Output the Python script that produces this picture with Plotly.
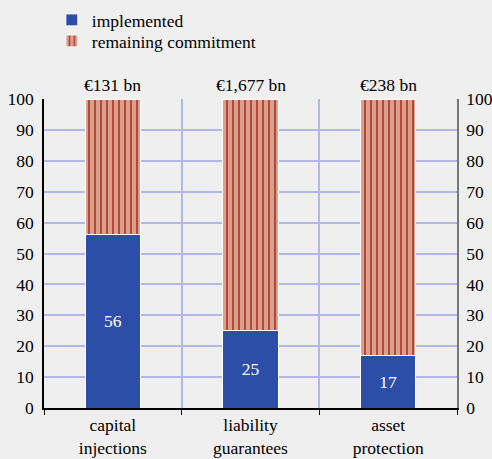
import plotly.graph_objects as go

categories = ["capital<br>injections", "liability<br>guarantees", "asset<br>protection"]
implemented = [56, 25, 17]
remaining = [44, 75, 83]
totals = ["€131 bn", "€1,677 bn", "€238 bn"]
y_ticks = [0, 10, 20, 30, 40, 50, 60, 70, 80, 90, 100]

FONT = "Liberation Serif"
BG = "#efefef"
GRID = "#b3b7e6"
BLUE = "#2c4ea8"
FS = 17.5

fig = go.Figure()
fig.add_trace(go.Bar(
    x=categories, y=implemented, name="implemented", legend="legend",
    marker=dict(color=BLUE, line=dict(color="white", width=1)),
    text=[str(v) for v in implemented], textposition="inside",
    insidetextanchor="middle",
    textfont=dict(color="white", size=FS, family=FONT),
))
fig.add_trace(go.Bar(
    x=categories, y=remaining, name="remaining commitment", legend="legend2",
    marker=dict(color="#d9a08d", line=dict(color="white", width=1),
                pattern=dict(shape="|", bgcolor="#d9a08d", fgcolor="#b43c2c",
                             size=6, solidity=0.3, fillmode="replace")),
    hoverinfo="skip",
))
# invisible trace for the right axis
fig.add_trace(go.Scatter(x=categories, y=implemented, yaxis="y2",
                         mode="markers", marker=dict(opacity=0),
                         showlegend=False, hoverinfo="skip"))

for c, t in zip(categories, totals):
    fig.add_annotation(x=c, y=100, text=t, showarrow=False, yanchor="bottom",
                       yshift=2, font=dict(size=FS, family=FONT, color="black"))

legend_common = dict(xref="paper", yref="container", yanchor="middle",
                     xanchor="left", bgcolor="rgba(0,0,0,0)",
                     font=dict(size=FS, family=FONT), itemwidth=30)

fig.update_layout(
    template="none",
    barmode="stack", bargap=0.6,
    width=492, height=459,
    paper_bgcolor=BG, plot_bgcolor=BG,
    margin=dict(l=44, r=35, t=99, b=51, autoexpand=False),
    font=dict(family=FONT, size=FS, color="black"),
    legend=dict(x=0.019, y=1 - 20 / 459, **legend_common),
    legend2=dict(x=0.019, y=1 - 41 / 459, **legend_common),
    xaxis=dict(showline=True, linecolor="black", linewidth=1.5,
               tickson="boundaries", ticks="outside", ticklen=5,
               tickcolor="black", showgrid=True, gridcolor=GRID, gridwidth=1.5,
               tickfont=dict(size=FS, family=FONT), range=[-0.5, 2.5]),
    yaxis=dict(range=[0, 100], tickvals=y_ticks, showline=True,
               linecolor="black", linewidth=1.5, showgrid=True,
               gridcolor=GRID, gridwidth=1.5, zeroline=False, ticks="",
               ticklabelstandoff=5, tickfont=dict(size=FS, family=FONT)),
    yaxis2=dict(range=[0, 100], tickvals=y_ticks, overlaying="y", side="right",
                showline=True, linecolor="#777777", linewidth=1.5,
                showgrid=False, zeroline=False, ticks="",
                ticklabelstandoff=4, tickfont=dict(size=FS, family=FONT)),
)

fig.write_html("out.html", config={"displayModeBar": False},
               post_script="document.body.style.margin='0';document.body.style.background='#efefef';")
